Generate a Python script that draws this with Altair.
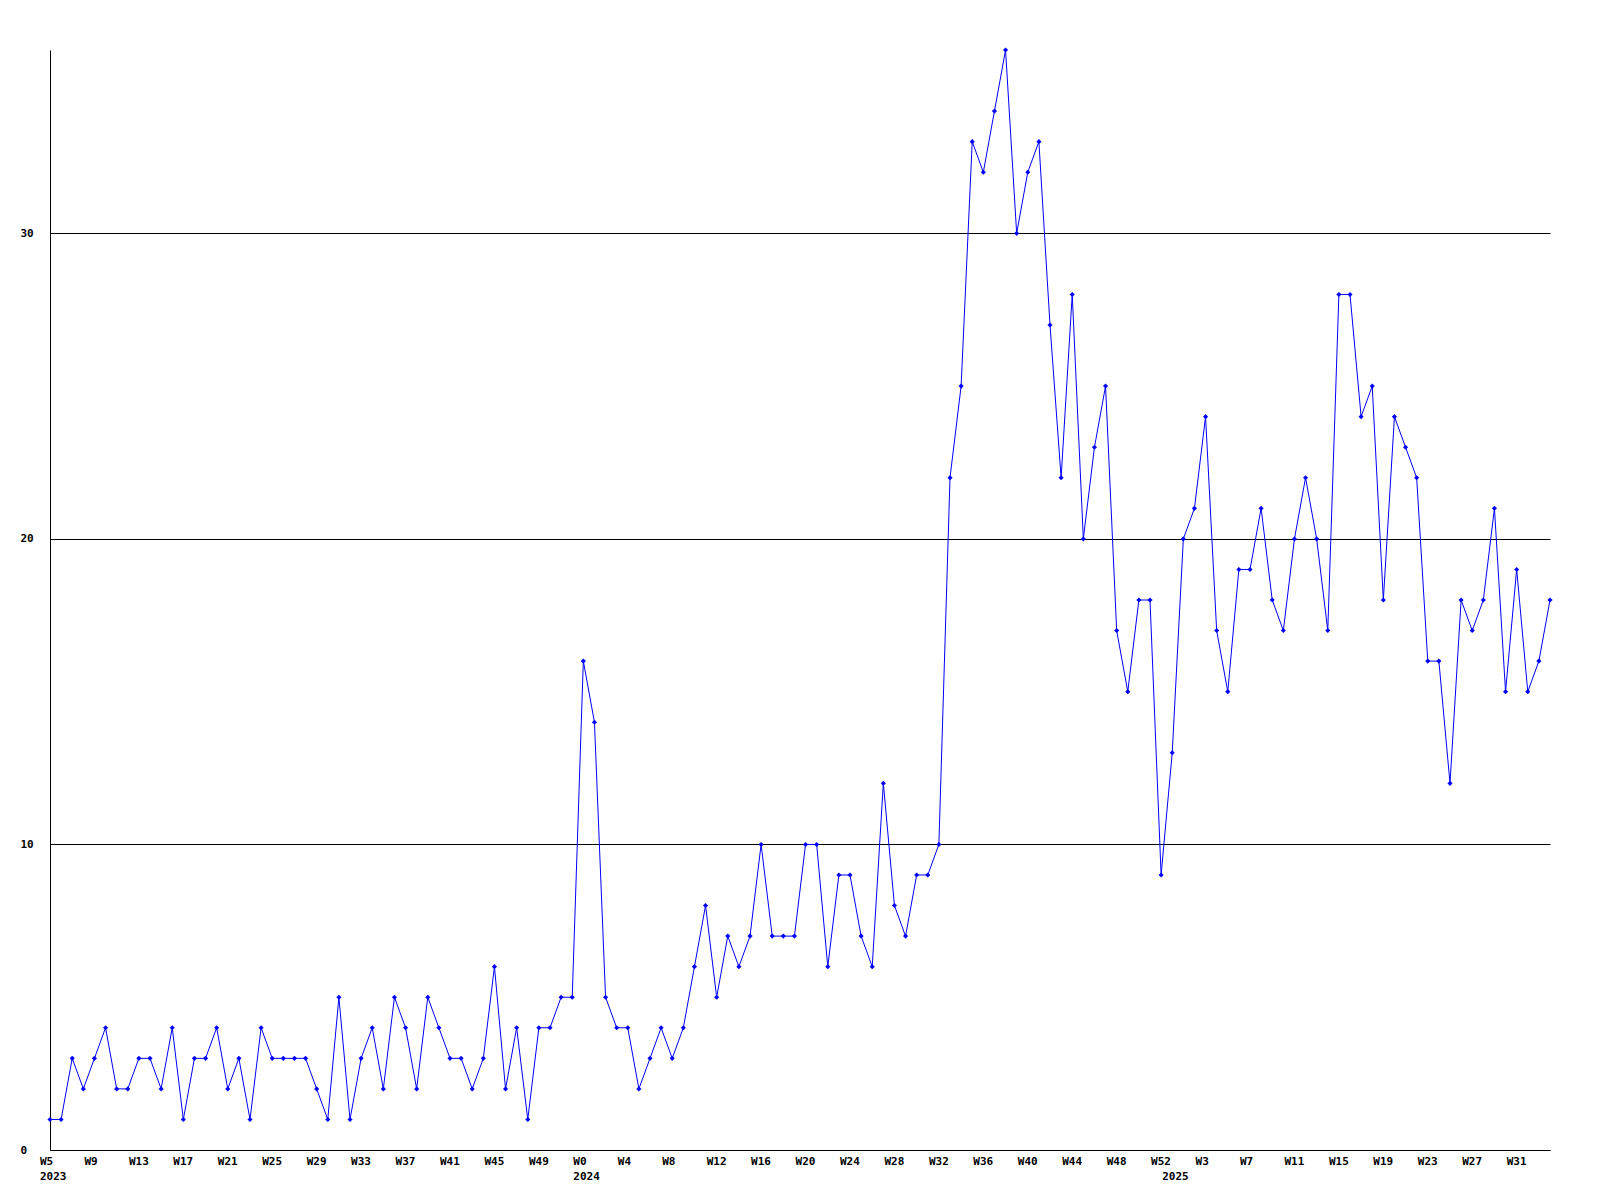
import altair as alt
import pandas as pd

# Weekly counts (2023 W5 .. 2025 W34)
counts_2023 = [1, 1, 3, 2, 3, 4, 2, 2, 3, 3, 2, 4, 1, 3, 3, 4, 2, 3, 1, 4, 3, 3, 3,
               3, 2, 1, 5, 1, 3, 4, 2, 5, 4, 2, 5, 4, 3, 3, 2, 3, 6, 2, 4, 1, 4, 4, 5, 5]
counts_2024 = [16, 14, 5, 4, 4, 2, 3, 4, 3, 4, 6, 8, 5, 7, 6, 7, 10, 7, 7, 7, 10, 10, 6,
               9, 9, 7, 6, 12, 8, 7, 9, 9, 10, 22, 25, 33, 32, 34, 36, 30, 32, 33, 27,
               22, 28, 20, 23, 25, 17, 15, 18, 18, 9]
counts_2025 = [13, 20, 21, 24, 17, 15, 19, 19, 21, 18, 17, 20, 22, 20, 17, 28, 28, 24,
               25, 18, 24, 23, 22, 16, 16, 12, 18, 17, 18, 21, 15, 19, 15, 16, 18]

weeks_2023 = list(range(5, 53))
weeks_2024 = list(range(0, 53))
weeks_2025 = list(range(0, 35))

counts = counts_2023 + counts_2024 + counts_2025
weeks = weeks_2023 + weeks_2024 + weeks_2025
years = [2023] * len(weeks_2023) + [2024] * len(weeks_2024) + [2025] * len(weeks_2025)

y_ticks = [0, 10, 20, 30]

df = pd.DataFrame({"i": list(range(len(counts))), "count": counts,
                   "week": weeks, "year": years})
tick_df = df[df["i"] % 4 == 0].copy()
tick_df["label"] = "W" + tick_df["week"].astype(str)
year_df = df[df["year"] != df["year"].shift()].copy()
year_df["label"] = year_df["year"].astype(str)

FONT = "DejaVu Sans Mono"
xs = alt.Scale(domain=[0, len(counts) - 1], nice=False, zero=False)
ys = alt.Scale(domain=[0, 36], nice=False)

base = alt.Chart(df)
line = base.mark_line(color="#0000ff", strokeWidth=1).encode(
    x=alt.X("i:Q", scale=xs,
            axis=alt.Axis(labels=False, ticks=False, grid=False, title=None,
                          domainColor="black", domainWidth=1)),
    y=alt.Y("count:Q", scale=ys,
            axis=alt.Axis(values=y_ticks, grid=True, gridColor="black", gridOpacity=1,
                          gridWidth=1, domainColor="black", domainWidth=1,
                          ticks=False, tickSize=0, labelAlign="left", labelBaseline="middle",
                          labelPadding=30, labelFont=FONT, labelFontSize=11,
                          labelFontWeight="bold", labelColor="black", title=None)),
)
points = base.mark_point(shape="diamond", filled=True, size=26, color="#0000ff",
                         opacity=1).encode(x="i:Q", y="count:Q")

wk_text = alt.Chart(tick_df).mark_text(
    align="left", baseline="middle", dx=-10, font=FONT, fontSize=11,
    fontWeight="bold", color="black").encode(
    x="i:Q", y=alt.value(1112), text="label:N")
yr_text = alt.Chart(year_df).mark_text(
    align="left", baseline="middle", dx=-10, font=FONT, fontSize=11,
    fontWeight="bold", color="black").encode(
    x="i:Q", y=alt.value(1127), text="label:N")

chart = alt.layer(line, points, wk_text, yr_text).properties(
    width=1500, height=1100,
    autosize=alt.AutoSizeParams(type="none"),
    padding={"left": 42, "top": 42, "right": 40, "bottom": 36},
).configure(background="white").configure_view(stroke=None, strokeWidth=0)

chart.save("out.html", embed_options={"renderer": "svg", "actions": False})
